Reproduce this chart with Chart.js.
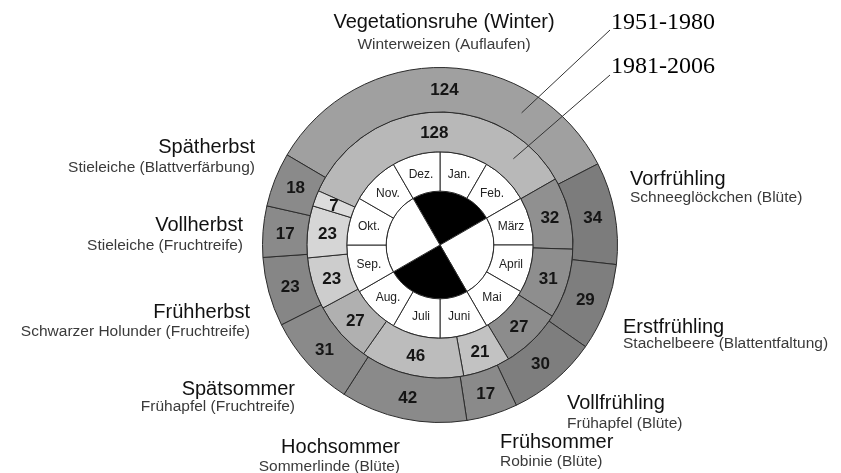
<!DOCTYPE html>
<html>
<head>
<meta charset="utf-8">
<script src="https://cdn.jsdelivr.net/npm/chart.js@4/dist/chart.umd.min.js"></script>
<style>
  html, body { margin: 0; padding: 0; background: #ffffff; }
  #wrap { width: 841px; height: 473px; position: relative; }
</style>
</head>
<body>
<div id="wrap"><canvas id="c" width="841" height="473"></canvas></div>
<script>
// ---- data ----
const seasons = ['Vegetationsruhe (Winter)', 'Vorfrühling', 'Erstfrühling', 'Vollfrühling', 'Frühsommer',
                 'Hochsommer', 'Spätsommer', 'Frühherbst', 'Vollherbst', 'Spätherbst'];
const indicators = ['Winterweizen (Auflaufen)', 'Schneeglöckchen (Blüte)', 'Stachelbeere (Blattentfaltung)',
                    'Frühapfel (Blüte)', 'Robinie (Blüte)', 'Sommerlinde (Blüte)', 'Frühapfel (Fruchtreife)',
                    'Schwarzer Holunder (Fruchtreife)', 'Stieleiche (Fruchtreife)', 'Stieleiche (Blattverfärbung)'];
const days1951_1980 = [124, 34, 29, 30, 17, 42, 31, 23, 17, 18];
const days1981_2006 = [128, 32, 31, 27, 21, 46, 27, 23, 23, 7];
const months = ['Jan.', 'Feb.', 'März', 'April', 'Mai', 'Juni', 'Juli', 'Aug.', 'Sep.', 'Okt.', 'Nov.', 'Dez.'];
const monthWeights = [1, 1, 1, 1, 1, 1, 1, 1, 1, 1, 1, 1];
const quarterWeights = [3, 3, 3, 3];
const periodNames = ['1951-1980', '1981-2006'];

// ---- styling ----
const outerColors = ['#a0a0a0', '#7c7c7c', '#7e7e7e', '#7e7e7e', '#8a8a8a', '#8a8a8a', '#8a8a8a', '#868686', '#8a8a8a', '#8a8a8a'];
const middleColors = ['#b8b8b8', '#909090', '#8e8e8e', '#8c8c8c', '#c2c2c2', '#bcbcbc', '#b0b0b0', '#cdcdcd', '#d6d6d6', '#dcdcdc'];
const lineColor = '#2b2b2b';

// text layout: [x, headingY, subY, align]
const textLayout = [
  [444, 22, 45, 'center'],
  [630, 179, 198, 'left'],
  [623, 327, 344, 'left'],
  [567, 403, 424, 'left'],
  [500, 442, 462, 'left'],
  [400, 447, 467, 'right'],
  [295, 389, 407, 'right'],
  [250, 312, 332, 'right'],
  [243, 225, 246, 'right'],
  [255, 147, 168, 'right']
];

const ringLabels = {
  id: 'ringLabels',
  afterDatasetsDraw(chart) {
    const ctx = chart.ctx;
    ctx.save();
    ctx.textAlign = 'center';
    ctx.textBaseline = 'middle';
    chart.data.datasets.forEach((ds, i) => {
      if (!ds.labelTexts) return;
      const meta = chart.getDatasetMeta(i);
      ctx.font = ds.labelFont;
      ctx.fillStyle = ds.labelColor;
      meta.data.forEach((arc, j) => {
        const p = arc.getCenterPoint();
        ctx.fillText(String(ds.labelTexts[j]), p.x, p.y + 1);
      });
    });
    ctx.restore();
  },
  afterDraw(chart) {
    const ctx = chart.ctx;
    ctx.save();
    // season headings + indicator plants
    seasons.forEach((s, i) => {
      const [x, hy, sy, align] = textLayout[i];
      ctx.textAlign = align;
      ctx.textBaseline = 'middle';
      ctx.fillStyle = '#111111';
      ctx.font = '20px "Liberation Sans", Arial, sans-serif';
      ctx.fillText(s, x, hy);
      ctx.fillStyle = '#3a3a3a';
      ctx.font = '15.5px "Liberation Sans", Arial, sans-serif';
      ctx.fillText(indicators[i], x, sy);
    });
    // period legend with leader lines
    const m0 = chart.getDatasetMeta(0).data[0];
    const m1 = chart.getDatasetMeta(1).data[0];
    const legendItems = [
      {arc: m0, angle: 31.7, tx: 610, ty: 23, ly: 30},
      {arc: m1, angle: 40.4, tx: 610, ty: 67, ly: 75}
    ];
    ctx.strokeStyle = '#333333';
    ctx.lineWidth = 1;
    legendItems.forEach((it, k) => {
      const r = (it.arc.innerRadius + it.arc.outerRadius) / 2;
      const a = it.angle * Math.PI / 180;
      const ex = it.arc.x + r * Math.sin(a);
      const ey = it.arc.y - r * Math.cos(a);
      ctx.beginPath();
      ctx.moveTo(it.tx, it.ly);
      ctx.lineTo(ex, ey);
      ctx.stroke();
      ctx.fillStyle = '#000000';
      ctx.font = '24px "Liberation Serif", "Times New Roman", serif';
      ctx.textAlign = 'left';
      ctx.textBaseline = 'middle';
      ctx.fillText(periodNames[k], it.tx + 1, it.ty);
    });
    ctx.restore();
  }
};

new Chart(document.getElementById('c'), {
  type: 'doughnut',
  data: {
    labels: seasons,
    datasets: [
      {
        label: periodNames[0],
        data: days1951_1980,
        backgroundColor: outerColors,
        borderColor: lineColor,
        borderWidth: 1,
        rotation: -59.5,
        weight: 44.5,
        labelTexts: days1951_1980,
        labelFont: 'bold 17px "Liberation Sans", Arial, sans-serif',
        labelColor: '#151515'
      },
      {
        label: periodNames[1],
        data: days1981_2006,
        backgroundColor: middleColors,
        borderColor: lineColor,
        borderWidth: 1,
        rotation: -66,
        weight: 40,
        labelTexts: days1981_2006,
        labelFont: 'bold 17px "Liberation Sans", Arial, sans-serif',
        labelColor: '#151515'
      },
      {
        label: 'Monate',
        data: monthWeights,
        backgroundColor: '#ffffff',
        borderColor: lineColor,
        borderWidth: 1,
        rotation: 0,
        weight: 39.5,
        labelTexts: months,
        labelFont: '12px "Liberation Sans", Arial, sans-serif',
        labelColor: '#222222'
      },
      {
        label: 'Jahreszeiten',
        data: quarterWeights,
        backgroundColor: ['#000000', '#ffffff', '#000000', '#ffffff'],
        borderColor: lineColor,
        borderWidth: 1,
        rotation: -30,
        weight: 54
      }
    ]
  },
  options: {
    responsive: false,
    animation: false,
    cutout: 0,
    layout: { padding: { left: 262, right: 223, top: 67, bottom: 50 } },
    plugins: {
      legend: { display: false },
      tooltip: { enabled: false }
    }
  },
  plugins: [ringLabels]
});
</script>
</body>
</html>
